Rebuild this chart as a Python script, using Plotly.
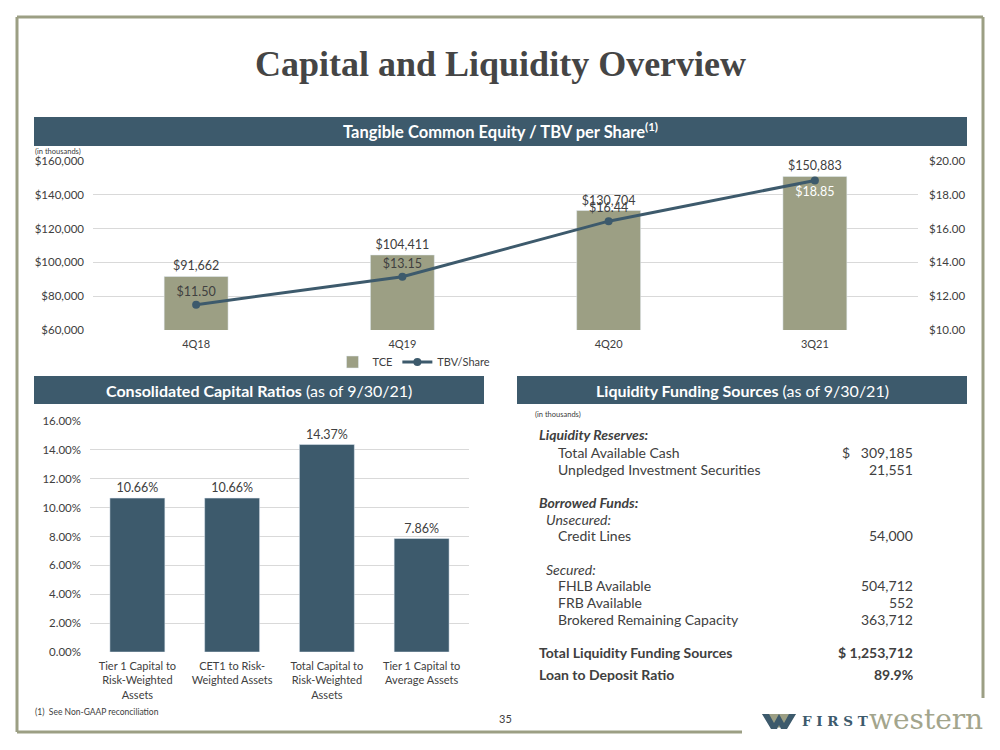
import plotly.graph_objects as go

# ---------------- data ----------------
quarters = ["4Q18", "4Q19", "4Q20", "3Q21"]
tce = [91662, 104411, 130704, 150883]
tbv = [11.50, 13.15, 16.44, 18.85]

ratio_labels = ["Tier 1 Capital to<br>Risk-Weighted<br>Assets",
                "CET1 to Risk-<br>Weighted Assets",
                "Total Capital to<br>Risk-Weighted<br>Assets",
                "Tier 1 Capital to<br>Average Assets"]
ratio_values = [10.66, 10.66, 14.37, 7.86]

liq_labels = ["Liquidity Reserves:", "Total Available Cash", "Unpledged Investment Securities",
              "Borrowed Funds:", "Unsecured:", "Credit Lines",
              "Secured:", "FHLB Available", "FRB Available", "Brokered Remaining Capacity",
              "Total Liquidity Funding Sources", "Loan to Deposit Ratio"]
liq_values = ["", "$   309,185", "21,551", "", "", "54,000", "", "504,712", "552", "363,712",
              "$ 1,253,712", "89.9%"]
liq_styles = ["head", "item", "item", "head", "sub", "item", "sub", "item", "item", "item",
              "total", "total"]

# ---------------- helpers ----------------
W, H = 1000, 750
def X(px): return px / W
def Y(py): return 1 - py / H

DARK = "#3d5a6c"
OLIVE = "#9c9f84"
TXT = "#404040"
GRID = "#d9d9d9"
FONT = "Lato"

fig = go.Figure()

# top chart
fig.add_trace(go.Bar(
    x=quarters, y=tce, name="TCE", marker_color=OLIVE, width=0.31,
    texttemplate="$%{y:,}", textposition="outside", cliponaxis=False,
    textfont=dict(family=FONT, size=12.5, color=TXT),
    xaxis="x", yaxis="y"))
fig.add_trace(go.Scatter(
    x=quarters, y=tbv, name="TBV/Share", mode="lines+markers+text",
    line=dict(color=DARK, width=3), marker=dict(color=DARK, size=8),
    texttemplate="$%{y:.2f}",
    textposition=["top center", "top center", "top center", "bottom center"],
    textfont=dict(family=FONT, size=12.5, color=[TXT, TXT, TXT, "white"]),
    cliponaxis=False, xaxis="x", yaxis="y2"))

# bottom-left chart
fig.add_trace(go.Bar(
    x=ratio_labels, y=ratio_values, marker_color=DARK, width=0.58, showlegend=False,
    texttemplate="%{y:.2f}%", textposition="outside", cliponaxis=False,
    textfont=dict(family=FONT, size=12.5, color=TXT),
    xaxis="x2", yaxis="y3"))

fig.update_layout(
    width=W, height=H, margin=dict(l=0, r=0, t=0, b=0, autoexpand=False),
    paper_bgcolor="white", plot_bgcolor="white",
    font=dict(family=FONT, color=TXT),
    xaxis=dict(domain=[X(93), X(918)], anchor="y", showgrid=False, showline=False,
               ticks="", tickfont=dict(size=11, color=TXT), automargin=False,
               ticklabelstandoff=6),
    yaxis=dict(domain=[Y(330), Y(161)], anchor="x", range=[60000, 160000], dtick=20000,
               tickprefix="$", tickformat=",", gridcolor=GRID, zeroline=False,
               tickfont=dict(size=11.5, color=TXT), ticklabelstandoff=8, automargin=False),
    yaxis2=dict(overlaying="y", side="right", anchor="x", range=[10, 20], dtick=2,
                tickprefix="$", tickformat=".2f", showgrid=False, zeroline=False,
                tickfont=dict(size=11.5, color=TXT), ticklabelstandoff=10, automargin=False),
    xaxis2=dict(domain=[X(90), X(469)], anchor="y3", showgrid=False, showline=False,
                ticks="", tickfont=dict(size=11, color=TXT), tickangle=0, automargin=False,
                ticklabelstandoff=6),
    yaxis3=dict(domain=[Y(652), Y(421)], anchor="x2", range=[0, 16], dtick=2,
                ticksuffix="%", tickformat=".2f", gridcolor=GRID, zeroline=False,
                tickfont=dict(size=11.5, color=TXT), ticklabelstandoff=8, automargin=False),
    legend=dict(orientation="h", x=X(414), xanchor="center", y=Y(362), yanchor="middle",
                font=dict(size=11, color=TXT), bgcolor="rgba(0,0,0,0)", itemwidth=30,
                tracegroupgap=0),
    bargap=0.5,
)

shapes = []
# frame
for (x0, y0, x1, y1) in [(17, 17, 983, 17), (17, 17, 17, 732), (17, 732, 742, 732), (983, 17, 983, 698)]:
    shapes.append(dict(type="line", xref="paper", yref="paper", x0=X(x0), y0=Y(y0), x1=X(x1), y1=Y(y1),
                       line=dict(color=OLIVE, width=3), layer="below"))
# header bars
for (x0, y0, x1, y1) in [(34, 117, 967, 146), (34, 376, 484, 404), (517, 376, 967, 404)]:
    shapes.append(dict(type="rect", xref="paper", yref="paper", x0=X(x0), y0=Y(y0), x1=X(x1), y1=Y(y1),
                       fillcolor=DARK, line=dict(width=0), layer="below"))
# logo emblem
shapes.append(dict(type="path", xref="paper", yref="paper",
                   path=f"M {X(762)} {Y(714)} L {X(796)} {Y(714)} L {X(779)} {Y(728)} Z",
                   fillcolor=OLIVE, line=dict(width=0)))
shapes.append(dict(type="path", xref="paper", yref="paper",
                   path=(f"M {X(762)} {Y(714)} L {X(769)} {Y(714)} L {X(774)} {Y(723)} L {X(779)} {Y(714)} "
                         f"L {X(784)} {Y(723)} L {X(789)} {Y(714)} L {X(796)} {Y(714)} L {X(787)} {Y(729)} "
                         f"L {X(781)} {Y(729)} L {X(779)} {Y(725)} L {X(777)} {Y(729)} L {X(771)} {Y(729)} Z"),
                   fillcolor=DARK, line=dict(width=0)))
fig.update_layout(shapes=shapes)

ann = []
def A(text, x, y, size, color=TXT, xanchor="left", family=FONT, yanchor="middle"):
    ann.append(dict(text=text, x=X(x), y=Y(y), xref="paper", yref="paper", showarrow=False,
                    xanchor=xanchor, yanchor=yanchor, font=dict(size=size, color=color, family=family)))

A("<b>Capital and Liquidity Overview</b>", 500, 64, 36, "#454545", "center", "Liberation Serif")
A("<b>Tangible Common Equity / TBV per Share<sup>(1)</sup></b>", 500, 131, 16.5, "white", "center")
A("<b>Consolidated Capital Ratios</b> (as of 9/30/21)", 259, 390, 16, "white", "center")
A("<b>Liquidity Funding Sources</b> (as of 9/30/21)", 742, 390, 16, "white", "center")
A("(in thousands)", 33, 151, 7.5, TXT)
A("(in thousands)", 533, 414, 7.5, TXT)
A("(1)  See Non-GAAP reconciliation", 33, 712, 8.5, TXT)
A("35", 505, 718, 11, TXT, "center")

rows_y = [435, 452, 469, 502, 519, 535, 569, 585, 602, 619, 652, 674]
for lab, val, sty, yy in zip(liq_labels, liq_values, liq_styles, rows_y):
    if sty == "head":
        A(f"<b><i>{lab}</i></b>", 537, yy, 14)
    elif sty == "sub":
        A(f"<i>{lab}</i>", 544, yy, 14)
    elif sty == "item":
        A(lab, 556, yy, 14)
    else:
        A(f"<b>{lab}</b>", 537, yy, 14)
    if val:
        v = f"<b>{val}</b>" if sty == "total" else val
        A(v, 915, yy, 14, TXT, "right")

# logo text
A("<b>F I R S T</b>", 800, 721, 13.5, DARK, "left", "DejaVu Serif")
A("western", 985, 719, 28, "#a3a58c", "right", "DejaVu Serif")

fig.update_layout(annotations=ann)
fig.write_html("out.html", config={"displayModeBar": False},
               post_script="document.body.style.margin='0';")
